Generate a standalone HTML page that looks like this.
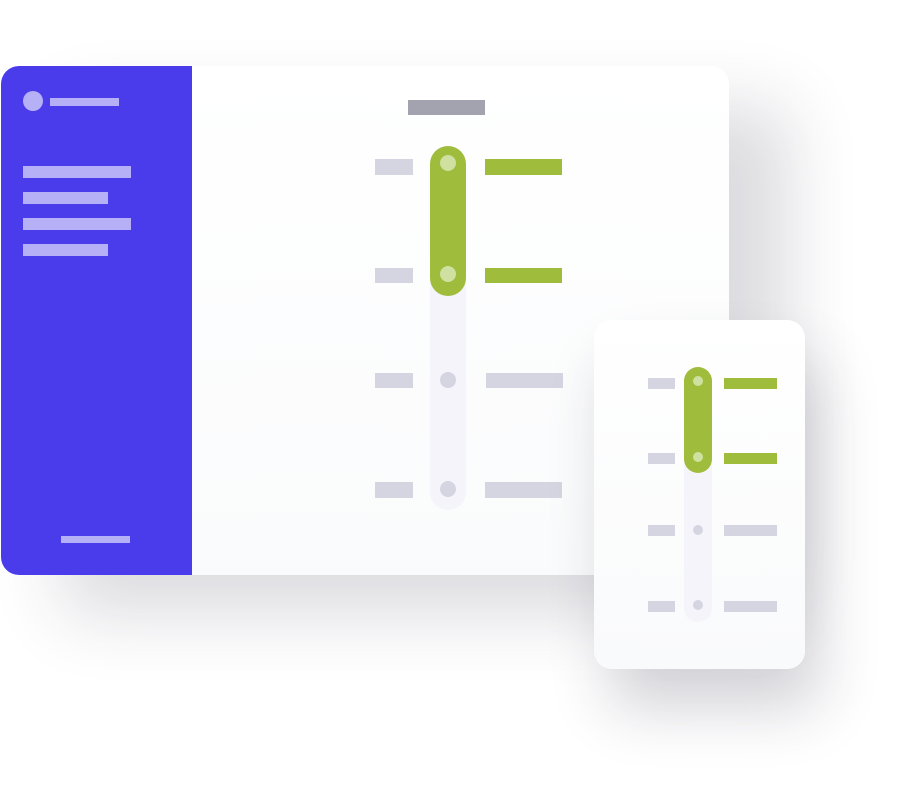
<!DOCTYPE html>
<html><head><style>
html,body{margin:0;padding:0;background:#fff;width:898px;height:796px;overflow:hidden;position:relative}
div{position:absolute;box-sizing:border-box}
.big{left:1px;top:66px;width:728px;height:509px;border-radius:18px;background:linear-gradient(#fff,#fafbfc);box-shadow:60px 40px 70px rgba(40,35,60,0.16);overflow:hidden}
.side{left:0;top:0;width:191px;height:509px;background:#4B3CEB}
.lb{background:#B6B0F7}
.g{background:#D4D5E1}
.gr{background:#9FBC3C}
.small{left:594px;top:320px;width:211px;height:349px;border-radius:18px;background:linear-gradient(#fff,#f9fafb);box-shadow:15px 40px 60px rgba(40,35,60,0.2)}
.dot{border-radius:50%}
</style></head><body>
<div class="big">
  <div class="side">
    <div class="lb dot" style="left:22px;top:25px;width:20px;height:20px"></div>
    <div class="lb" style="left:49px;top:32px;width:69px;height:8px"></div>
    <div class="lb" style="left:22px;top:100px;width:108px;height:12px"></div>
    <div class="lb" style="left:22px;top:126px;width:85px;height:12px"></div>
    <div class="lb" style="left:22px;top:152px;width:108px;height:12px"></div>
    <div class="lb" style="left:22px;top:178px;width:85px;height:12px"></div>
    <div class="lb" style="left:60px;top:470px;width:69px;height:7px"></div>
  </div>
  <div style="left:407px;top:34px;width:77px;height:15px;background:#A2A3AE"></div>
  <div style="left:429px;top:80px;width:36px;height:364px;border-radius:18px;background:#F4F4FA"></div>
  <div class="gr" style="left:429px;top:80px;width:36px;height:150px;border-radius:18px"></div>
  <div class="dot" style="left:439px;top:89px;width:16px;height:16px;background:#CFE0A0"></div>
  <div class="dot" style="left:439px;top:200px;width:16px;height:16px;background:#CFE0A0"></div>
  <div class="dot g" style="left:439px;top:306px;width:16px;height:16px"></div>
  <div class="dot g" style="left:439px;top:415px;width:16px;height:16px"></div>
  <div class="g" style="left:374px;top:93px;width:38px;height:16px"></div>
  <div class="g" style="left:374px;top:202px;width:38px;height:15px"></div>
  <div class="g" style="left:374px;top:307px;width:38px;height:15px"></div>
  <div class="g" style="left:374px;top:416px;width:38px;height:16px"></div>
  <div class="gr" style="left:484px;top:93px;width:77px;height:16px"></div>
  <div class="gr" style="left:484px;top:202px;width:77px;height:15px"></div>
  <div class="g" style="left:485px;top:307px;width:77px;height:15px"></div>
  <div class="g" style="left:484px;top:416px;width:77px;height:16px"></div>
</div>
<div class="small">
  <div style="left:90px;top:47px;width:28px;height:255px;border-radius:14px;background:#F4F4FA"></div>
  <div class="gr" style="left:90px;top:47px;width:28px;height:106px;border-radius:14px"></div>
  <div class="dot" style="left:99px;top:56px;width:10px;height:10px;background:#CFE0A0"></div>
  <div class="dot" style="left:99px;top:132px;width:10px;height:10px;background:#CFE0A0"></div>
  <div class="dot g" style="left:99px;top:205px;width:10px;height:10px"></div>
  <div class="dot g" style="left:99px;top:280px;width:10px;height:10px"></div>
  <div class="g" style="left:54px;top:58px;width:27px;height:11px"></div>
  <div class="g" style="left:54px;top:133px;width:27px;height:11px"></div>
  <div class="g" style="left:54px;top:205px;width:27px;height:11px"></div>
  <div class="g" style="left:54px;top:281px;width:27px;height:11px"></div>
  <div class="gr" style="left:130px;top:58px;width:53px;height:11px"></div>
  <div class="gr" style="left:130px;top:133px;width:53px;height:11px"></div>
  <div class="g" style="left:130px;top:205px;width:53px;height:11px"></div>
  <div class="g" style="left:130px;top:281px;width:53px;height:11px"></div>
</div>
</body></html>
